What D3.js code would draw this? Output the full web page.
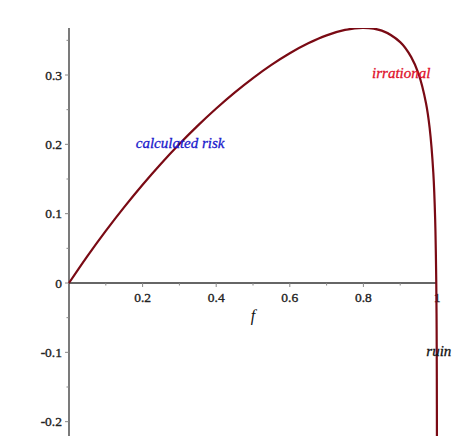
<!DOCTYPE html>
<html><head><meta charset="utf-8">
<script src="https://cdn.jsdelivr.net/npm/d3@7"></script>
<style>body{margin:0;background:#fff}svg{display:block}
text{font-family:"Liberation Serif","Times New Roman",serif}</style>
</head><body>
<svg id="c" width="469" height="442"></svg>
<script>
// f values and growth rate values
const fVals = [0, 0.05, 0.1, 0.15, 0.2, 0.25, 0.3, 0.35, 0.4, 0.45, 0.5, 0.55, 0.6, 0.65, 0.7, 0.75, 0.8, 0.85, 0.9, 0.93, 0.95, 0.97, 0.98, 0.99, 0.995, 0.998, 0.999, 0.9995, 0.9998];
const gVals = [0, 0.0388, 0.0752, 0.1095, 0.1418, 0.1721, 0.2005, 0.2270, 0.2517, 0.2746, 0.2956, 0.3146, 0.3314, 0.3457, 0.3572, 0.3650, 0.3681, 0.3640, 0.3474, 0.3258, 0.3015, 0.2596, 0.2236, 0.1588, 0.0918, 0.0015, -0.0672, -0.1365, -0.228];
const xTicks = [0.2, 0.4, 0.6, 0.8, 1];
const xTickLabels = ["0.2", "0.4", "0.6", "0.8", "1"];
const yTicks = [-0.2, -0.1, 0, 0.1, 0.2, 0.3];
const yTickLabels = ["-0.2", "-0.1", "0", "0.1", "0.2", "0.3"];
const annotations = [
  {text: "calculated risk", f: 0.302, g: 0.195, color: "#1a1acc"},
  {text: "irrational", f: 0.903, g: 0.295, color: "#e0102a"},
  {text: "ruin", f: 1.005, g: -0.106, color: "#111"}
];

const svg = d3.select("#c");
const x = d3.scaleLinear().domain([0, 1]).range([69, 437]);
const y = d3.scaleLinear().domain([0, 0.3]).range([283, 75]);
const yTop = 28, yBot = 436;

// axes lines
svg.append("line").attr("x1", x(0)).attr("x2", x(0)).attr("y1", yTop).attr("y2", yBot)
  .attr("stroke", "#333").attr("stroke-width", 1.3);
svg.append("line").attr("x1", x(0)).attr("x2", x(1)).attr("y1", y(0)).attr("y2", y(0))
  .attr("stroke", "#333").attr("stroke-width", 1.3);

// x ticks (major + minor)
const xMinor = d3.range(1, 10).map(i => i / 10);
svg.selectAll(".xt").data(xMinor).join("line")
  .attr("x1", d => x(d)).attr("x2", d => x(d))
  .attr("y1", y(0)).attr("y2", d => y(0) + (Math.round(d * 10) % 2 === 0 ? 4 : 2.5))
  .attr("stroke", "#888").attr("stroke-width", 1);
svg.selectAll(".xl").data(xTicks).join("text")
  .attr("x", d => x(d)).attr("y", y(0) + 19)
  .attr("text-anchor", "middle").style("font-size", "13.5px")
  .attr("fill", "#222").attr("stroke", "#222").attr("stroke-width", 0.35)
  .text((d, i) => xTickLabels[i]);

// y ticks
const yMinor = d3.range(-4, 8).map(i => i * 0.05);
svg.selectAll(".yt").data(yMinor).join("line")
  .attr("x1", x(0)).attr("x2", d => x(0) - (Math.abs(Math.round(d * 20)) % 2 === 0 ? 4 : 2.5))
  .attr("y1", d => y(d)).attr("y2", d => y(d))
  .attr("stroke", "#888").attr("stroke-width", 1);
svg.selectAll(".yl").data(yTicks).join("text")
  .attr("x", 62).attr("y", d => y(d) + 4.5)
  .attr("text-anchor", "end").style("font-size", "13.5px")
  .attr("fill", "#222").attr("stroke", "#222").attr("stroke-width", 0.35)
  .text((d, i) => yTickLabels[i]);

// axis label
svg.append("text").attr("x", x(0.5)).attr("y", 321)
  .attr("text-anchor", "middle").style("font-size", "16px")
  .style("font-style", "italic").attr("fill", "#111").text("f");

// clip
svg.append("clipPath").attr("id", "clip").append("rect")
  .attr("x", 0).attr("y", yTop).attr("width", 469).attr("height", yBot - yTop);

const pts = fVals.map((f, i) => [f, gVals[i]]);
const line = d3.line().x(d => x(d[0])).y(d => y(d[1])).curve(d3.curveCatmullRom.alpha(0.5));
svg.append("path").attr("d", line(pts)).attr("clip-path", "url(#clip)")
  .attr("fill", "none").attr("stroke", "#7a0a14").attr("stroke-width", 2.2);

// annotations
svg.selectAll(".ann").data(annotations).join("text")
  .attr("x", d => x(d.f)).attr("y", d => y(d.g))
  .attr("text-anchor", "middle").style("font-size", "15px")
  .style("font-style", "italic").attr("fill", d => d.color)
  .attr("stroke", d => d.color).attr("stroke-width", 0.3)
  .text(d => d.text);
</script>
</body></html>
